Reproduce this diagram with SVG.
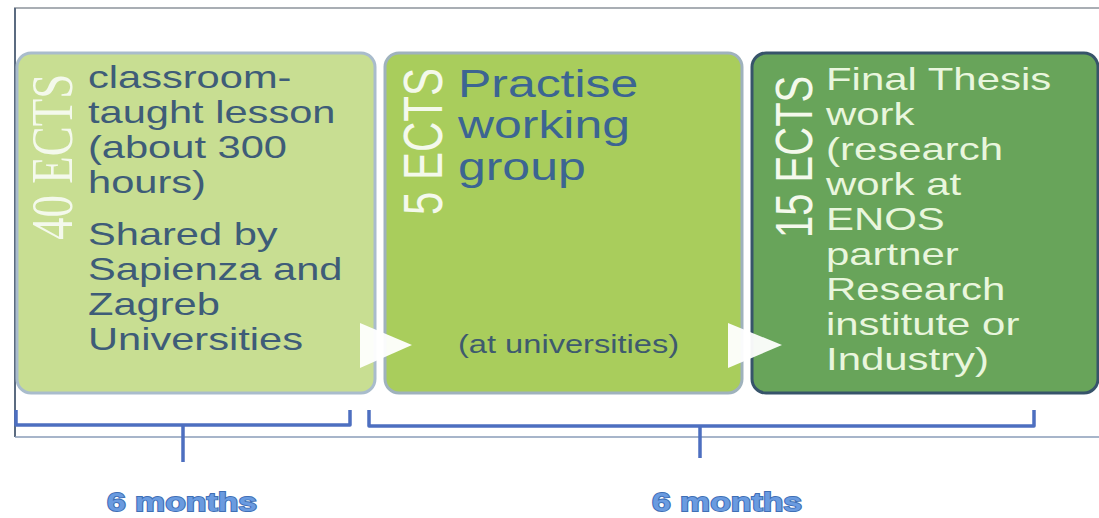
<svg xmlns="http://www.w3.org/2000/svg" width="1099" height="518" viewBox="0 0 1099 518">
<style>
.t{font-family:"Liberation Sans",Arial,sans-serif}
.b1{fill:#3e5c78;font-size:32px}
.b2{fill:#3c6592;font-size:39px}
.b3{fill:#e9f6dd;font-size:32px}
.ects{fill:#f4f9ec}
.br{fill:none;stroke:#4d6fc0;stroke-width:3.5;stroke-linejoin:round}
.mo{font-family:"Liberation Sans",Arial,sans-serif;font-weight:bold;font-size:26px;fill:#6a9be0;stroke:#3f6fb5;stroke-width:1.8;paint-order:stroke;text-anchor:middle}
</style>
<rect width="1099" height="518" fill="#ffffff"/>
<g id="frame">
<line x1="14" y1="8" x2="1099" y2="8" stroke="#8d939b" stroke-width="1.6"/>
<line x1="15" y1="8" x2="15" y2="437" stroke="#5b6b80" stroke-width="2"/>
<line x1="15" y1="437" x2="1099" y2="437" stroke="#8a9cb8" stroke-width="1.6"/>
</g>
<g id="node1">
<rect x="17" y="53" width="358" height="340" rx="14" fill="#c8de92" stroke="#a9bccc" stroke-width="3"/>
<text class="ects" style="font-family:'Liberation Serif',serif" font-size="45" transform="translate(72,240) scale(1.3,1) rotate(-90)">40 ECTS</text>
<g transform="translate(88,0) scale(1.3,1)">
<text class="t b1"><tspan x="0" y="88">classroom-</tspan><tspan x="0" y="123">taught lesson</tspan><tspan x="0" y="158">(about 300</tspan><tspan x="0" y="193">hours)</tspan><tspan x="0" y="245">Shared by</tspan><tspan x="0" y="280">Sapienza and</tspan><tspan x="0" y="315">Zagreb</tspan><tspan x="0" y="350">Universities</tspan></text>
</g>
</g>
<g id="node2">
<rect x="385" y="53" width="357" height="340" rx="14" fill="#a9cd5c" stroke="#9fb2bd" stroke-width="3"/>
<text class="t ects" font-size="42" transform="translate(442,215) scale(1.3,1) rotate(-90)">5 ECTS</text>
<g transform="translate(458,0) scale(1.28,1)">
<text class="t b2"><tspan x="0" y="97">Practise</tspan><tspan x="0" y="138">working</tspan><tspan x="0" y="180">group</tspan></text>
<text class="t" x="0" y="353" font-size="25.5" fill="#3e5a6e">(at universities)</text>
</g>
</g>
<g id="node3">
<rect x="752" y="53" width="346" height="340" rx="14" fill="#68a45a" stroke="#37546a" stroke-width="3"/>
<text class="t ects" font-size="40" transform="translate(812,238) scale(1.3,1) rotate(-90)">15 ECTS</text>
<g transform="translate(826,0) scale(1.31,1)">
<text class="t b3"><tspan x="0" y="90">Final Thesis</tspan><tspan x="0" y="125">work</tspan><tspan x="0" y="160">(research</tspan><tspan x="0" y="195">work at</tspan><tspan x="0" y="230">ENOS</tspan><tspan x="0" y="265">partner</tspan><tspan x="0" y="300">Research</tspan><tspan x="0" y="335">institute or</tspan><tspan x="0" y="370">Industry)</tspan></text>
</g>
</g>
<g id="connectors">
<polygon points="360,323 412,345 360,368" fill="#ffffff" fill-opacity="0.95"/>
<polygon points="728,323 782,345 728,368" fill="#ffffff" fill-opacity="0.95"/>
</g>
<g id="brackets">
<path class="br" d="M16,410 V425 H350 V410 M183,425 V462"/>
<path class="br" d="M369,410 V426 H1034 V410 M700,426 V458"/>
<text class="mo" transform="translate(182,511) scale(1.3,1)">6 months</text>
<text class="mo" transform="translate(727,511) scale(1.3,1)">6 months</text>
</g>
</svg>
